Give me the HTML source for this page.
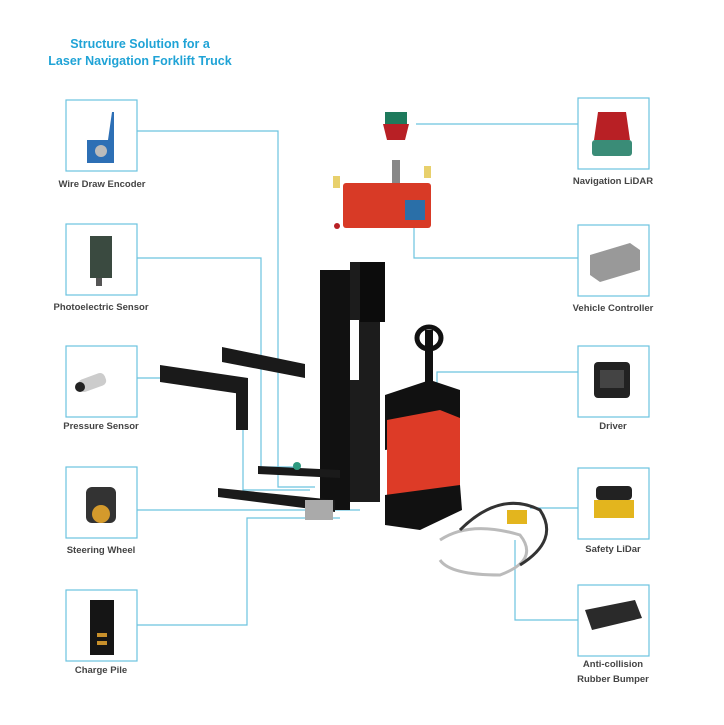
<!DOCTYPE html>
<html><head><meta charset="utf-8"><style>
body{margin:0;background:#fff}
svg{display:block}
text{font-family:"Liberation Sans",sans-serif;font-weight:bold}
</style></head><body>
<svg width="724" height="725" viewBox="0 0 724 725" xmlns="http://www.w3.org/2000/svg">
<rect width="724" height="725" fill="#fff"/>
<text x="140" y="48" font-size="12.5" fill="#1fa3d6" text-anchor="middle">Structure Solution for a</text>
<text x="140" y="65" font-size="12.5" fill="#1fa3d6" text-anchor="middle">Laser Navigation Forklift Truck</text>

<g fill="none" stroke="#6cc3df" stroke-width="1.2">
<rect x="66" y="100" width="71" height="71"/>
<rect x="66" y="224" width="71" height="71"/>
<rect x="66" y="346" width="71" height="71"/>
<rect x="66" y="467" width="71" height="71"/>
<rect x="66" y="590" width="71" height="71"/>
<rect x="578" y="98" width="71" height="71"/>
<rect x="578" y="225" width="71" height="71"/>
<rect x="578" y="346" width="71" height="71"/>
<rect x="578" y="468" width="71" height="71"/>
<rect x="578" y="585" width="71" height="71"/>
<polyline points="137,131 278,131 278,487 315,487"/>
<polyline points="137,258 261,258 261,467 295,467"/>
<polyline points="137,378 243,378 243,490 310,490"/>
<polyline points="137,510 360,510"/>
<polyline points="137,625 247,625 247,518 340,518"/>
<polyline points="578,124 416,124"/>
<polyline points="578,258 414,258 414,228"/>
<polyline points="578,372 437,372 437,450"/>
<polyline points="578,508 530,508"/>
<polyline points="578,620 515,620 515,540"/>
</g>

<g font-size="9.5" fill="#444" text-anchor="middle">
<text x="102" y="187">Wire Draw Encoder</text>
<text x="101" y="310">Photoelectric Sensor</text>
<text x="101" y="429">Pressure Sensor</text>
<text x="101" y="553">Steering Wheel</text>
<text x="101" y="673">Charge Pile</text>
<text x="613" y="184">Navigation LiDAR</text>
<text x="613" y="311">Vehicle Controller</text>
<text x="613" y="429">Driver</text>
<text x="613" y="552">Safety LiDar</text>
<text x="613" y="667">Anti-collision</text>
<text x="613" y="682">Rubber Bumper</text>
</g>

<!-- product icons -->
<path d="M87,140 L108,140 L112,112 L114,112 L114,163 L87,163Z" fill="#2d6fb5"/>
<circle cx="101" cy="151" r="6" fill="#bbb"/>
<rect x="90" y="236" width="22" height="42" fill="#3a4a40"/>
<rect x="96" y="278" width="6" height="8" fill="#555"/>
<rect x="78" y="376" width="28" height="13" rx="5" fill="#ccc" transform="rotate(-20 92 382)"/>
<circle cx="80" cy="387" r="5" fill="#222"/>
<rect x="86" y="487" width="30" height="36" rx="6" fill="#333"/>
<circle cx="101" cy="514" r="9" fill="#d49a2c"/>
<rect x="90" y="600" width="24" height="55" fill="#151515"/>
<rect x="97" y="633" width="10" height="4" fill="#c8902b"/>
<rect x="97" y="641" width="10" height="4" fill="#c8902b"/>
<path d="M598,112 L626,112 L630,140 L594,140Z" fill="#b82025"/>
<rect x="592" y="140" width="40" height="16" rx="3" fill="#3a8c77"/>
<path d="M590,255 L630,243 L640,250 L640,270 L600,282 L590,275Z" fill="#999"/>
<rect x="594" y="362" width="36" height="36" rx="4" fill="#222"/>
<rect x="600" y="370" width="24" height="18" fill="#444"/>
<rect x="596" y="486" width="36" height="14" rx="4" fill="#222"/>
<rect x="594" y="500" width="40" height="18" fill="#e3b51e"/>
<path d="M585,610 L635,600 L642,618 L592,630Z" fill="#2a2a2a"/>

<!-- forklift -->
<rect x="385" y="112" width="22" height="12" fill="#1e7a5c"/>
<path d="M383,124 L409,124 L405,140 L387,140Z" fill="#b82025"/>
<rect x="392" y="160" width="8" height="24" fill="#888"/>
<rect x="343" y="183" width="88" height="45" rx="3" fill="#d83a26"/>
<rect x="405" y="200" width="20" height="20" fill="#2a6fa8"/>
<rect x="333" y="176" width="7" height="12" fill="#e8d06c"/>
<rect x="424" y="166" width="7" height="12" fill="#e8d06c"/>
<circle cx="337" cy="226" r="3" fill="#b82025"/>
<path d="M160,365 L248,378 L248,395 L160,382Z" fill="#1a1a1a"/>
<path d="M222,347 L305,364 L305,378 L222,362Z" fill="#1a1a1a"/>
<rect x="236" y="380" width="12" height="50" fill="#1a1a1a"/>
<rect x="320" y="270" width="30" height="240" fill="#111"/>
<rect x="350" y="262" width="30" height="240" fill="#1c1c1c"/>
<rect x="360" y="262" width="25" height="60" fill="#0c0c0c"/>
<rect x="350" y="320" width="9" height="60" fill="#fff"/>
<rect x="425" y="330" width="8" height="60" fill="#111"/>
<ellipse cx="429" cy="338" rx="12" ry="11" fill="none" stroke="#111" stroke-width="5"/>
<path d="M385,395 L430,380 L460,390 L460,440 L385,450Z" fill="#111"/>
<path d="M387,420 L440,410 L460,418 L460,490 L400,505 L387,495Z" fill="#dd3b27"/>
<path d="M385,495 L460,485 L462,510 L420,530 L385,525Z" fill="#111"/>
<path d="M258,466 L340,470 L340,478 L258,474Z" fill="#1a1a1a"/>
<path d="M218,488 L335,500 L335,512 L218,497Z" fill="#1a1a1a"/>
<rect x="305" y="500" width="28" height="20" fill="#aaa"/>
<circle cx="297" cy="466" r="4" fill="#2e9a80"/>
<path d="M440,540 Q470,520 520,535 Q540,560 500,575 Q450,575 440,560" fill="none" stroke="#bbb" stroke-width="3"/>
<path d="M460,530 Q500,490 540,510 Q560,540 520,565" fill="none" stroke="#333" stroke-width="3"/>
<rect x="507" y="510" width="20" height="14" fill="#e3b51e"/>
</svg>
</body></html>
